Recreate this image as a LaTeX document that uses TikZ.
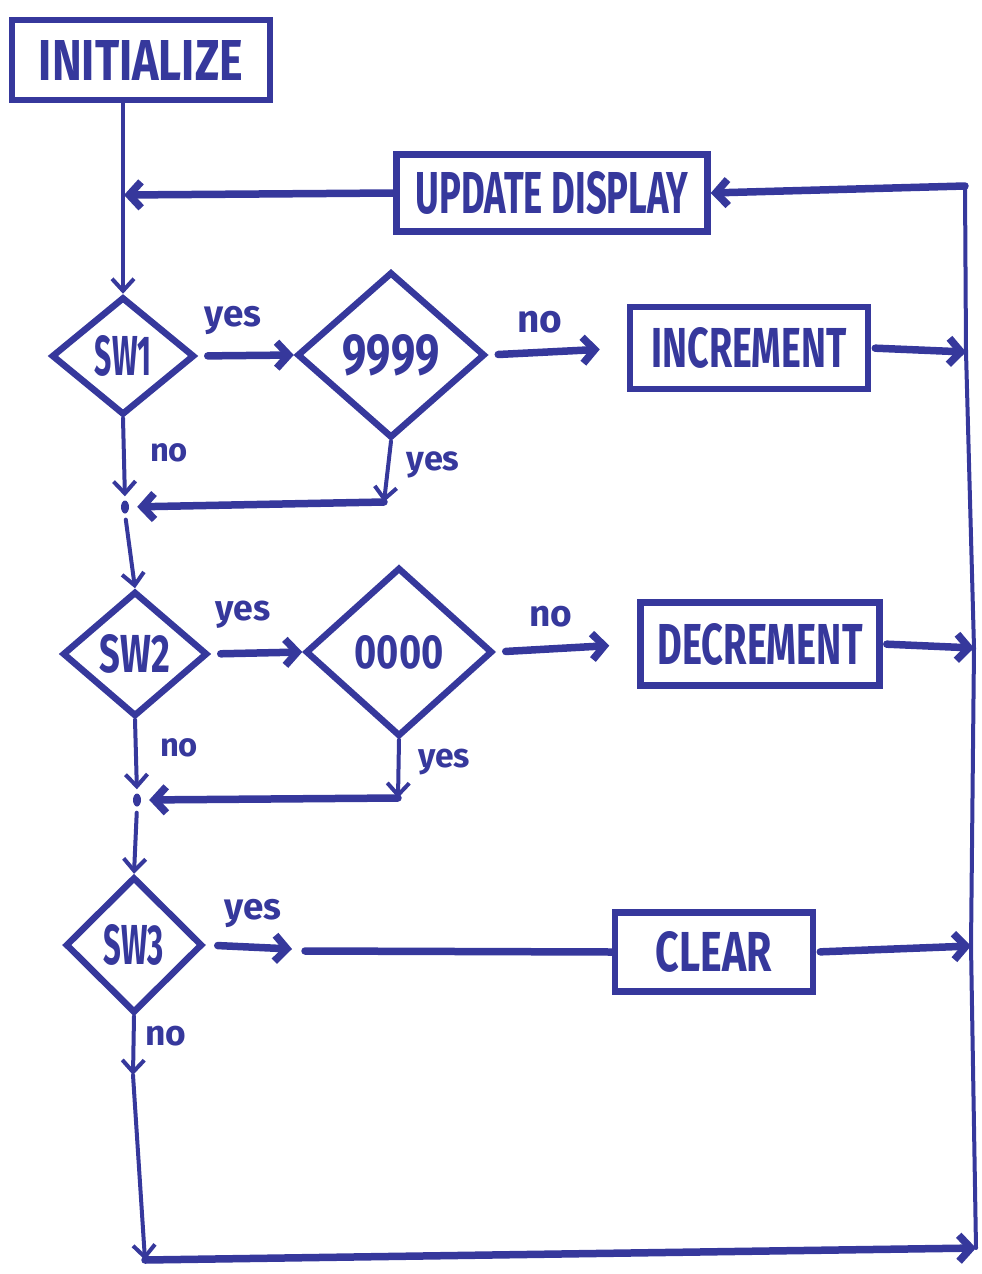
\documentclass[tikz,border=0pt]{standalone}
\usepackage{fontspec}
\setmainfont{Fira Sans}
\usetikzlibrary{shapes.geometric,arrows.meta}
\definecolor{ink}{RGB}{54,56,156}
\newcommand{\hwt}[3]{\resizebox{#1}{#2}{\bfseries #3}}
\newcommand{\hwl}[2]{\resizebox{#1}{!}{\bfseries #2}}
\begin{document}
\begin{tikzpicture}[x=1pt,y=-1pt,
  box/.style={draw=ink, line width=6.5pt, inner sep=0pt, text=ink},
  dia/.style={draw=ink, diamond, line width=6.5pt, inner sep=0pt, text=ink},
  lbl/.style={text=ink, inner sep=0pt},
  flow/.style={draw=ink, line width=7.5pt, line cap=round, -{Straight Barb[length=12pt,width=26pt]}},
  seg/.style={draw=ink, line width=7.5pt, line cap=round},
  vlinearr/.style={draw=ink, line width=4pt, line cap=round, -{Straight Barb[length=12pt,width=22pt]}},
  vline/.style={draw=ink, line width=4pt, line cap=round, line join=round},
  jdot/.style={fill=ink, ellipse, minimum width=8pt, minimum height=13pt, inner sep=0pt}
]
\useasboundingbox (0,0) rectangle (982,1274);
% boxes
\node[box, minimum width=258pt, minimum height=80pt] (init) at (141,60) {\hwt{204pt}{40pt}{INITIALIZE}};
\node[box, minimum width=311pt, minimum height=77pt] (upd) at (552,193) {\hwt{273pt}{42pt}{UPDATE DISPLAY}};
\node[box, minimum width=238pt, minimum height=82pt] (inc) at (749,348) {\hwt{195pt}{40pt}{INCREMENT}};
\node[box, minimum width=239pt, minimum height=83pt] (dec) at (760,644) {\hwt{205pt}{41pt}{DECREMENT}};
\node[box, minimum width=198pt, minimum height=79pt] (clr) at (714,952) {\hwt{116pt}{40pt}{CLEAR}};
% diamonds
\node[dia, minimum width=143pt, minimum height=118pt] (sw1) at (123,356) {\hwt{56pt}{40pt}{SW1}};
\node[dia, minimum width=188pt, minimum height=166pt] (n9) at (391,355) {\hwt{97pt}{40pt}{9999}};
\node[dia, minimum width=145pt, minimum height=125pt] (sw2) at (135,654) {\hwt{70pt}{38pt}{SW2}};
\node[dia, minimum width=187pt, minimum height=169pt] (n0) at (399,652) {\hwt{89pt}{33pt}{0000}};
\node[dia, minimum width=137pt, minimum height=136pt] (sw3) at (134,945) {\hwt{60pt}{40pt}{SW3}};
% junctions
\node[jdot] (j1) at (125,507) {};
\node[jdot] (j2) at (137,800) {};
% helper coordinates
\coordinate (a1) at (124,195);
\coordinate (y9) at (384,502);
\coordinate (y0) at (398,798);
\coordinate (c3) at (292,949);
\coordinate (c3b) at (305,951);
\coordinate (m3) at (133,1075);
\coordinate (bl) at (145,1260);
\coordinate (br) at (976,1248);
\coordinate (rtop) at (965,186);
\coordinate (r1) at (966,352);
\coordinate (r2) at (974,648);
\coordinate (r3) at (971,946);
% connectors
\draw[vlinearr] (init.south -| sw1.north) -- (sw1.north);
\draw[flow] (upd.west) -- (a1);
\draw[flow, shorten <=10pt] (sw1.east) -- (n9.west);
\draw[flow, shorten <=10pt, shorten >=27pt] (n9.east) -- (inc.west);
\draw[flow, shorten <=4pt] (inc.east) -- (r1);
\draw[vlinearr, shorten >=4pt] (sw1.south) -- (j1.north);
\draw[vlinearr] (n9.south) -- (y9);
\draw[flow, shorten >=8pt] (y9) -- (j1.east);
\draw[vlinearr, shorten <=6pt] (j1.south) -- (sw2.north);
\draw[flow, shorten <=10pt] (sw2.east) -- (n0.west);
\draw[flow, shorten <=10pt, shorten >=28pt] (n0.east) -- (dec.west);
\draw[flow, shorten <=4pt] (dec.east) -- (r2);
\draw[vlinearr, shorten >=4pt] (sw2.south) -- (j2.north);
\draw[vlinearr] (n0.south) -- (y0);
\draw[flow, shorten >=8pt] (y0) -- (j2.east);
\draw[vlinearr, shorten <=6pt] (j2.south) -- (sw3.north);
\draw[flow, shorten <=12pt] (sw3.east) -- (c3);
\draw[seg] (c3b) -- (clr.west);
\draw[flow, shorten <=4pt] (clr.east) -- (r3);
\draw[vlinearr] (sw3.south) -- (m3);
\draw[vlinearr] (m3) -- (bl);
\draw[flow] (bl) -- (br);
\draw[vline] (br) -- (r3) -- (r2) -- (r1) -- (rtop);
\draw[flow] (rtop) -- (upd.east);
% labels
\node[lbl] (l1) at (233,320) {\hwl{57pt}{yes}};
\node[lbl] (l2) at (540,322) {\hwl{45pt}{no}};
\node[lbl] (l3) at (169,453) {\hwl{38pt}{no}};
\node[lbl] (l4) at (433,465) {\hwl{53pt}{yes}};
\node[lbl] (l5) at (243,615) {\hwl{55pt}{yes}};
\node[lbl] (l6) at (551,617) {\hwl{43pt}{no}};
\node[lbl] (l7) at (179,748) {\hwl{38pt}{no}};
\node[lbl] (l8) at (444,762) {\hwl{52pt}{yes}};
\node[lbl] (l9) at (253,913) {\hwl{57pt}{yes}};
\node[lbl] (l10) at (166,1036) {\hwl{41pt}{no}};
\end{tikzpicture}
\end{document}
